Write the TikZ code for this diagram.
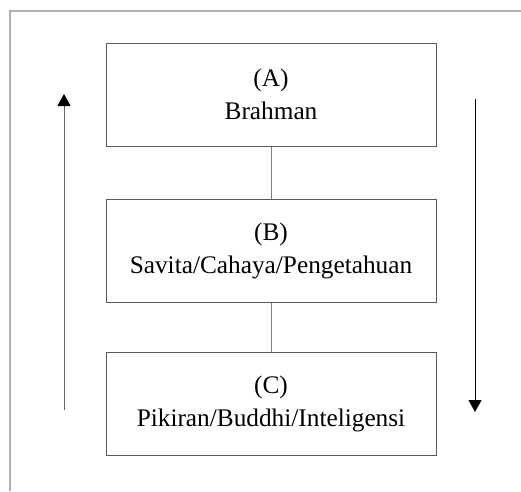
\documentclass[tikz,border=0pt]{standalone}
\usepackage{fontspec}
\setmainfont{Liberation Serif}
\usetikzlibrary{arrows.meta}
\definecolor{framegray}{HTML}{B0B0B0}
\definecolor{boxgray}{HTML}{5A5A5A}
\definecolor{linkgray}{HTML}{808080}
\tikzset{
  stagebox/.style={draw=boxgray, line width=1pt, minimum width=330pt, minimum height=103pt,
    inner sep=0pt, align=center, font=\fontsize{25.3}{33}\selectfont},
  link/.style={draw=linkgray, line width=1pt},
  flow/.style={line width=1pt, -{Triangle[length=12pt, width=13pt, black]}},
}
\begin{document}
\begin{tikzpicture}[x=1pt, y=-1pt]
\useasboundingbox (0,0) rectangle (521,491);
\draw[framegray, line width=1.6pt] (10,491) -- (10,11) -- (521,11);
\node[stagebox] (A) at (271,94.5) {(A)\\Brahman};
\node[stagebox] (B) at (271,251) {(B)\\Savita/Cahaya/Pengetahuan};
\node[stagebox] (C) at (271,404) {(C)\\Pikiran/Buddhi/Inteligensi};
\draw[link] (A.south) -- (B.north);
\draw[link] (B.south) -- (C.north);
\coordinate (lb) at (64,410);
\coordinate (lt) at (64,94);
\coordinate (rt) at (475,99);
\coordinate (rb) at (475,412);
\draw[flow, draw=black!60] (lb) -- (lt);
\draw[flow, draw=black] (rt) -- (rb);
\end{tikzpicture}
\end{document}
